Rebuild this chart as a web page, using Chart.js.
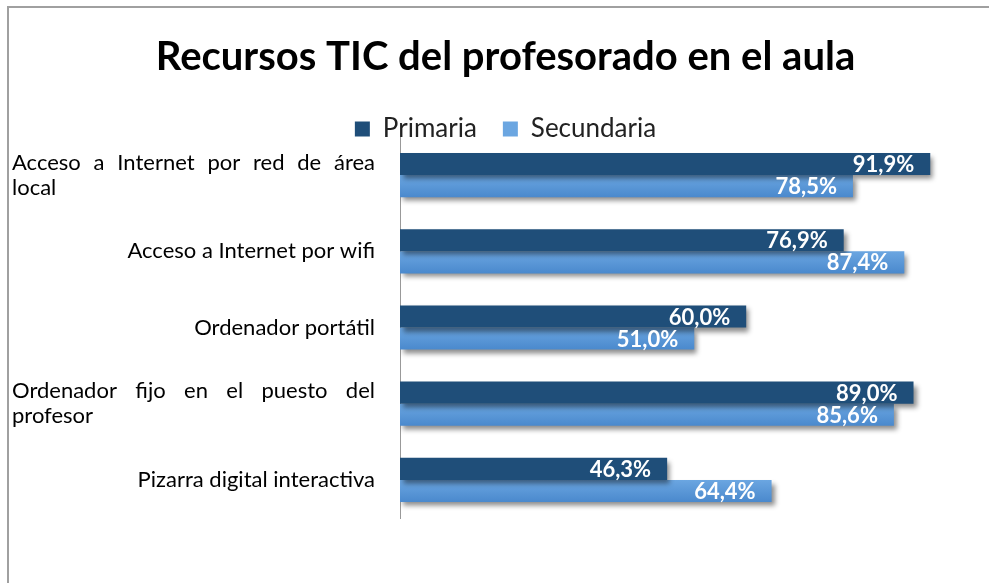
<!DOCTYPE html>
<html>
<head>
<meta charset="utf-8">
<script src="https://cdn.jsdelivr.net/npm/chart.js@4"></script>
<style>
  html, body { margin: 0; padding: 0; background: #fff; }
  #wrap { width: 989px; height: 583px; position: relative; }
</style>
</head>
<body>
<div id="wrap"><canvas id="chart"></canvas></div>
<script>
// ================= DATA =================

const categories = [
  ["Acceso a Internet por red de área", "local"],
  ["Acceso a Internet por wifi"],
  ["Ordenador portátil"],
  ["Ordenador fijo en el puesto del", "profesor"],
  ["Pizarra digital interactiva"]
];
const primaria = [91.9, 76.9, 60.0, 89.0, 46.3];
const secundaria = [78.5, 87.4, 51.0, 85.6, 64.4];

const FONT = "Lato, 'Open Sans', sans-serif";

// ================= PLUGINS =================

// grey frame on the left and top
const framePlugin = {
  id: "frame",
  beforeDraw(chart) {
    const ctx = chart.ctx;
    ctx.save();
    ctx.strokeStyle = "#a0a0a0";
    ctx.lineWidth = 2;
    ctx.beginPath();
    ctx.moveTo(8, chart.height);
    ctx.lineTo(8, 7);
    ctx.lineTo(chart.width, 7);
    ctx.stroke();
    ctx.restore();
  }
};

// drop shadow under bars
const shadowPlugin = {
  id: "barShadow",
  beforeDatasetDraw(chart) {
    const ctx = chart.ctx;
    ctx.save();
    ctx.shadowColor = "rgba(0,0,0,0.45)";
    ctx.shadowBlur = 5;
    ctx.shadowOffsetX = 3;
    ctx.shadowOffsetY = 4;
  },
  afterDatasetDraw(chart) {
    chart.ctx.restore();
  }
};

// value labels inside the bar end
const valuePlugin = {
  id: "values",
  afterDatasetsDraw(chart) {
    const ctx = chart.ctx;
    ctx.save();
    ctx.font = "bold 22px " + FONT;
    ctx.fillStyle = "#fff";
    ctx.textAlign = "right";
    ctx.textBaseline = "middle";
    chart.data.datasets.forEach((ds, i) => {
      chart.getDatasetMeta(i).data.forEach((bar, j) => {
        const txt = ds.data[j].toFixed(1).replace(".", ",") + "%";
        ctx.fillText(txt, bar.x - 16, bar.y + 1);
      });
    });
    ctx.restore();
  }
};

// justified category labels on the left
const labelPlugin = {
  id: "catLabels",
  afterDraw(chart) {
    const ctx = chart.ctx;
    const y = chart.scales.y;
    const left = 12, right = 375, lh = 25;
    ctx.save();
    ctx.font = "22px " + FONT;
    ctx.fillStyle = "#000";
    ctx.textBaseline = "middle";
    categories.forEach((lines, i) => {
      const cy = y.getPixelForValue(i);
      const y0 = cy - (lines.length - 1) * lh / 2;
      lines.forEach((line, k) => {
        const ly = y0 + k * lh;
        if (lines.length === 1) {
          ctx.textAlign = "right";
          ctx.fillText(line, right, ly);
        } else if (k === lines.length - 1) {
          ctx.textAlign = "left";
          ctx.fillText(line, left, ly);
        } else {
          // spread the words across the full width
          const words = line.split(" ");
          const wordsW = words.reduce((s, w) => s + ctx.measureText(w).width, 0);
          const gap = (right - left - wordsW) / (words.length - 1);
          let x = left;
          ctx.textAlign = "left";
          words.forEach(w => {
            ctx.fillText(w, x, ly);
            x += ctx.measureText(w).width + gap;
          });
        }
      });
    });
    ctx.restore();
  }
};

// light blue bars get a soft vertical gradient
function secundariaFill(c) {
  const bar = c.chart.getDatasetMeta(c.datasetIndex).data[c.dataIndex];
  if (!bar || !bar.height) return "#5b9bd5";
  const top = bar.y - bar.height / 2;
  const g = c.chart.ctx.createLinearGradient(0, top, 0, top + bar.height);
  g.addColorStop(0, "#6ba6e1");
  g.addColorStop(1, "#4a89cd");
  return g;
}

// ================= CHART =================

const chart = new Chart(document.getElementById("chart"), {
  type: "bar",
  data: {
    labels: categories,
    datasets: [
      { label: "Primaria", data: primaria, backgroundColor: "#1f4e79" },
      { label: "Secundaria", data: secundaria, backgroundColor: secundariaFill }
    ]
  },
  options: {
    indexAxis: "y",
    responsive: true,
    maintainAspectRatio: false,
    animation: false,
    barPercentage: 1,
    categoryPercentage: 0.58,
    layout: { padding: { left: 34, right: 12, bottom: 65, top: 0 } },
    plugins: {
      tooltip: { enabled: false },
      title: {
        display: true,
        text: "Recursos TIC del profesorado en el aula",
        color: "#000",
        font: { family: FONT, size: 40, weight: "bold", lineHeight: 1.2 },
        padding: { top: 33, bottom: 9 }
      },
      legend: {
        position: "top",
        maxHeight: 47,
        labels: {
          color: "#222",
          font: { family: FONT, size: 26 },
          boxWidth: 15,
          boxHeight: 15,
          padding: 26,
          useBorderRadius: false
        }
      }
    },
    scales: {
      x: { display: false, min: 0, max: 100 },
      y: {
        grid: { display: false },
        border: { display: true, color: "#999", width: 1 },
        ticks: { display: false },
        afterFit(s) { s.width = 366; }
      }
    }
  },
  plugins: [framePlugin, shadowPlugin, valuePlugin, labelPlugin]
});

chart.update("none");
</script>
</body>
</html>
